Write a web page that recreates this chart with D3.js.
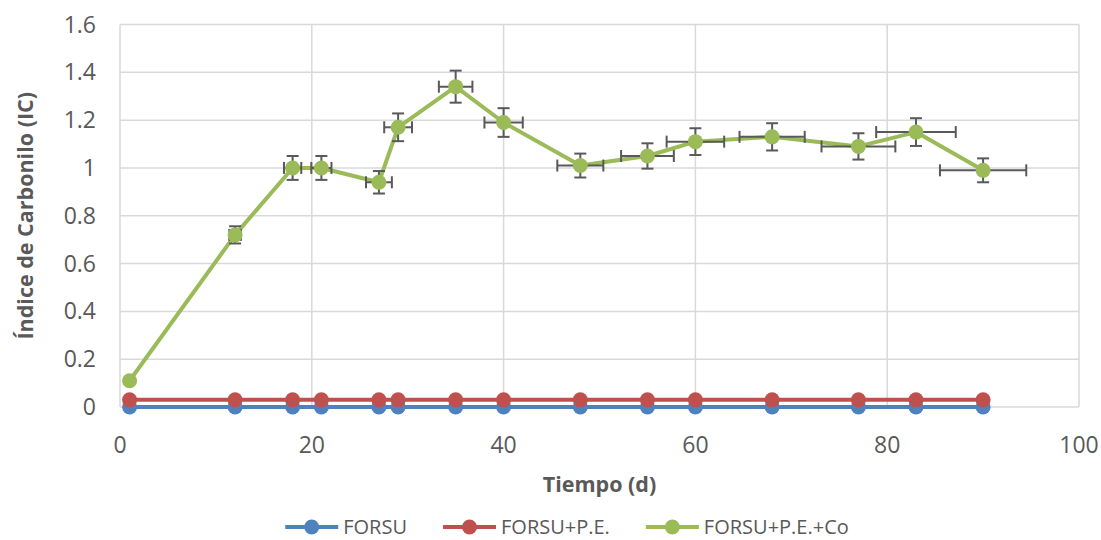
<!DOCTYPE html>
<html>
<head>
<meta charset="utf-8">
<script src="https://cdn.jsdelivr.net/npm/d3@7/dist/d3.min.js"></script>
<style>
  body { margin: 0; background: #fff; }
  text { font-family: "Open Sans", sans-serif; fill: #595959; }
</style>
</head>
<body>
<div id="chart"></div>
<script>
// tiempo (d)
var days = [1, 12, 18, 21, 27, 29, 35, 40, 48, 55, 60, 68, 77, 83, 90];
var forsu = [0, 0, 0, 0, 0, 0, 0, 0, 0, 0, 0, 0, 0, 0, 0];
var forsuPE = [0.03, 0.03, 0.03, 0.03, 0.03, 0.03, 0.03, 0.03, 0.03, 0.03, 0.03, 0.03, 0.03, 0.03, 0.03];
var forsuPECo = [0.11, 0.72, 1.00, 1.00, 0.94, 1.17, 1.34, 1.19, 1.01, 1.05, 1.11, 1.13, 1.09, 1.15, 0.99];
// barras de error del ultimo grupo
var errY = [0.006, 0.036, 0.05, 0.05, 0.047, 0.058, 0.067, 0.06, 0.05, 0.053, 0.056, 0.057, 0.055, 0.058, 0.05];
var errX = [0.05, 0.6, 0.9, 1.05, 1.35, 1.45, 1.75, 2.0, 2.4, 2.75, 3.0, 3.4, 3.85, 4.15, 4.5];
var seriesNames = ['FORSU', 'FORSU+P.E.', 'FORSU+P.E.+Co'];
var xTicks = [0, 20, 40, 60, 80, 100];
var yTicks = [0, 0.2, 0.4, 0.6, 0.8, 1, 1.2, 1.4, 1.6];

var width = 1101, height = 540;
var margin = {top: 24.5, right: 22, bottom: 133, left: 120};
var colors = ['#4f81bd', '#c0504d', '#9bbb59'];

var svg = d3.select('#chart')
    .append('svg')
    .attr('width', width)
    .attr('height', height);

var x = d3.scaleLinear().domain([0, 100]).range([margin.left, width - margin.right]);
var y = d3.scaleLinear().domain([0, 1.6]).range([height - margin.bottom, margin.top]);

// rejilla
svg.append('g').selectAll('line')
    .data(yTicks)
    .enter().append('line')
    .attr('x1', x(0)).attr('x2', x(100))
    .attr('y1', function (d) { return y(d); })
    .attr('y2', function (d) { return y(d); })
    .attr('stroke', '#d9d9d9').attr('stroke-width', 1.5);

svg.append('g').selectAll('line')
    .data(xTicks)
    .enter().append('line')
    .attr('x1', function (d) { return x(d); })
    .attr('x2', function (d) { return x(d); })
    .attr('y1', y(0)).attr('y2', y(1.6))
    .attr('stroke', '#d9d9d9').attr('stroke-width', 1.5);

// etiquetas de ejes
svg.append('g').selectAll('text')
    .data(yTicks)
    .enter().append('text')
    .attr('x', 96)
    .attr('y', function (d) { return y(d); })
    .attr('dy', '0.35em')
    .attr('text-anchor', 'end')
    .style('font-size', '23px')
    .text(function (d) { return d; });

svg.append('g').selectAll('text')
    .data(xTicks)
    .enter().append('text')
    .attr('x', function (d) { return x(d); })
    .attr('y', 453)
    .attr('text-anchor', 'middle')
    .style('font-size', '23px')
    .text(function (d) { return d; });

svg.append('text')
    .attr('x', x(50))
    .attr('y', 492)
    .attr('text-anchor', 'middle')
    .style('font-size', '21.5px')
    .style('font-weight', 'bold')
    .text('Tiempo (d)');

svg.append('text')
    .attr('transform', 'translate(33,' + y(0.8) + ') rotate(-90)')
    .attr('text-anchor', 'middle')
    .style('font-size', '21.5px')
    .style('font-weight', 'bold')
    .text('Índice de Carbonilo (IC)');

var allSeries = [forsu, forsuPE, forsuPECo];

var line = d3.line()
    .x(function (d) { return x(d[0]); })
    .y(function (d) { return y(d[1]); });

allSeries.forEach(function (vals, s) {
    var pts = days.map(function (d, i) { return [d, vals[i]]; });
    var g = svg.append('g');

    g.append('path')
        .datum(pts)
        .attr('d', line)
        .attr('fill', 'none')
        .attr('stroke', colors[s])
        .attr('stroke-width', 4)
        .attr('stroke-linejoin', 'round');

    if (s === 2) {
        var eb = g.append('g')
            .attr('stroke', '#595959')
            .attr('stroke-width', 2);
        pts.forEach(function (p, i) {
            var cx = x(p[0]), cy = y(p[1]);
            var y0 = y(p[1] - errY[i]), y1 = y(p[1] + errY[i]);
            var x0 = x(p[0] - errX[i]), x1 = x(p[0] + errX[i]);
            eb.append('line').attr('x1', cx).attr('x2', cx).attr('y1', y0).attr('y2', y1);
            eb.append('line').attr('x1', cx - 6).attr('x2', cx + 6).attr('y1', y0).attr('y2', y0);
            eb.append('line').attr('x1', cx - 6).attr('x2', cx + 6).attr('y1', y1).attr('y2', y1);
            eb.append('line').attr('x1', x0).attr('x2', x1).attr('y1', cy).attr('y2', cy);
            eb.append('line').attr('x1', x0).attr('x2', x0).attr('y1', cy - 6).attr('y2', cy + 6);
            eb.append('line').attr('x1', x1).attr('x2', x1).attr('y1', cy - 6).attr('y2', cy + 6);
        });
    }

    g.selectAll('circle')
        .data(pts)
        .enter().append('circle')
        .attr('cx', function (d) { return x(d[0]); })
        .attr('cy', function (d) { return y(d[1]); })
        .attr('r', 7.5)
        .attr('fill', colors[s]);
});

// leyenda
var legend = svg.append('g');
var lx = 0;
seriesNames.forEach(function (name, i) {
    var item = legend.append('g').attr('transform', 'translate(' + lx + ',0)');
    item.append('line')
        .attr('x1', 0).attr('x2', 53)
        .attr('y1', 0).attr('y2', 0)
        .attr('stroke', colors[i]).attr('stroke-width', 4);
    item.append('circle')
        .attr('cx', 26.5).attr('cy', 0).attr('r', 7.5)
        .attr('fill', colors[i]);
    var t = item.append('text')
        .attr('x', 58)
        .attr('dy', '0.35em')
        .style('font-size', '20px')
        .text(name);
    lx += 58 + t.node().getComputedTextLength() + 36;
});
var legendW = lx - 36;
legend.attr('transform', 'translate(' + (567 - legendW / 2) + ',527)');
</script>
</body>
</html>
